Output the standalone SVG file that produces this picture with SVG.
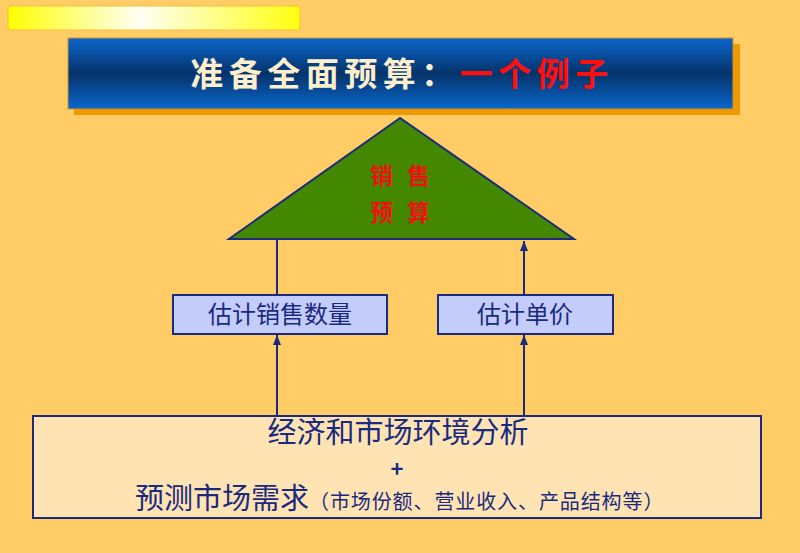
<svg xmlns="http://www.w3.org/2000/svg" width="800" height="553" viewBox="0 0 800 553">
<defs>
<linearGradient id="yb" x1="0" y1="0" x2="1" y2="0">
<stop offset="0" stop-color="#FFFF00"/>
<stop offset="0.45" stop-color="#FFFFF4"/>
<stop offset="1" stop-color="#FFFF10"/>
</linearGradient>
<linearGradient id="tb" x1="0" y1="0" x2="0" y2="1">
<stop offset="0" stop-color="#0A66CC"/>
<stop offset="0.5" stop-color="#05336A"/>
<stop offset="1" stop-color="#0A66CC"/>
</linearGradient>
<marker id="ah" viewBox="0 0 10 10" refX="10" refY="5" markerWidth="5" markerHeight="5" orient="auto">
<path d="M0,1 L10,5 L0,9 z" fill="#1A2A80"/>
</marker>
<style>
.cjk{font-family:"Noto Sans CJK SC","Noto Sans",sans-serif}
.box{stroke:#1A2A80;stroke-width:2}
.conn{stroke:#1A2A80;stroke-width:2;fill:none}
.nav{fill:#1A2A80}
</style>
</defs>
<rect width="800" height="553" fill="#FFCC66"/>
<rect x="8" y="6" width="292" height="24" rx="3" fill="url(#yb)" stroke="#F5C040" stroke-width="1"/>
<g id="title">
<rect x="74" y="44" width="666" height="71" fill="#EE9900"/>
<rect x="68" y="38" width="665" height="71" fill="url(#tb)" stroke="#D89020" stroke-width="1"/>
<text x="402" y="86" text-anchor="middle" class="cjk" font-size="33" font-weight="bold" letter-spacing="5.5" fill="#FFEECC">准备全面预算：<tspan fill="#FF1010">一个例子</tspan></text>
</g>
<g id="sales-budget">
<polygon points="400,118 229,239 574,239" fill="#448800" stroke="#1A2A80" stroke-width="2"/>
<text x="407" y="184" text-anchor="middle" class="cjk" font-size="23" font-weight="bold" fill="#EE1111" letter-spacing="14">销售</text>
<text x="407" y="221" text-anchor="middle" class="cjk" font-size="23" font-weight="bold" fill="#EE1111" letter-spacing="14">预算</text>
</g>
<g id="connectors">
<line x1="277" y1="294" x2="277" y2="240" class="conn"/>
<line x1="524" y1="294" x2="524" y2="241" class="conn" marker-end="url(#ah)"/>
<line x1="277" y1="415" x2="277" y2="335" class="conn" marker-end="url(#ah)"/>
<line x1="524" y1="415" x2="524" y2="335" class="conn" marker-end="url(#ah)"/>
</g>
<g id="qty">
<rect x="173" y="295" width="214" height="39" fill="#C4CCFA" class="box"/>
<text x="280" y="323" text-anchor="middle" class="cjk nav" font-size="24">估计销售数量</text>
</g>
<g id="price">
<rect x="438" y="295" width="175" height="39" fill="#C4CCFA" class="box"/>
<text x="525" y="323" text-anchor="middle" class="cjk nav" font-size="24">估计单价</text>
</g>
<g id="analysis">
<rect x="33" y="416" width="728" height="102" fill="#FFE3B3" class="box"/>
<text x="398" y="443" text-anchor="middle" class="cjk nav" font-size="29">经济和市场环境分析</text>
<text x="397" y="477" text-anchor="middle" class="cjk nav" font-size="22" font-weight="bold">+</text>
<text x="135" y="509" class="cjk nav" font-size="29">预测市场需求<tspan font-size="20" letter-spacing="0.9">（市场份额、营业收入、产品结构等）</tspan></text>
</g>
</svg>
